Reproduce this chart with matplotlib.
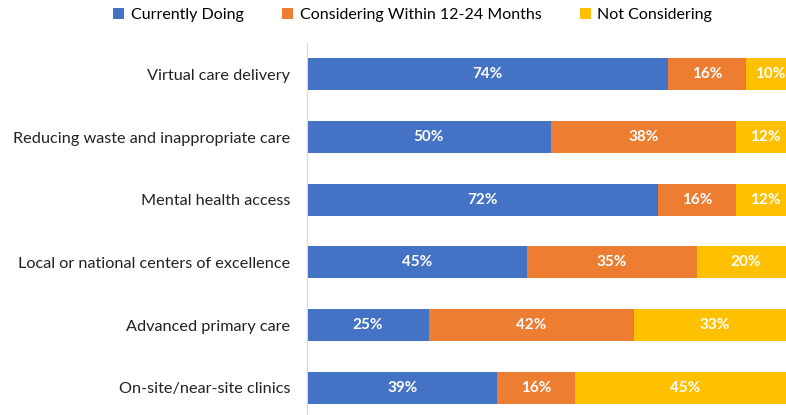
import matplotlib
matplotlib.use("Agg")
import matplotlib.pyplot as plt
import numpy as np

categories = ["Virtual care delivery", "Reducing waste and inappropriate care",
              "Mental health access", "Local or national centers of excellence",
              "Advanced primary care", "On-site/near-site clinics"]
series_names = ["Currently Doing", "Considering Within 12-24 Months", "Not Considering"]
currently = [74, 50, 72, 45, 25, 39]
considering = [16, 38, 16, 35, 42, 16]
not_considering = [10, 12, 12, 20, 33, 45]
colors = ["#4472C4", "#ED7D31", "#FFC000"]

plt.rcParams['font.family'] = ['Lato', 'DejaVu Sans']

fig = plt.figure(figsize=(7.86, 4.15), dpi=100)
ax = fig.add_axes([307/786, 1 - 419/415, 1 - 307/786, (419 - 43)/415])

y = np.arange(len(categories))
left = np.zeros(len(categories))
for vals, name, c in zip([currently, considering, not_considering], series_names, colors):
    vals = np.array(vals, dtype=float)
    ax.barh(y, vals, left=left, height=0.51, color=c, label=name)
    for yi, l, v in zip(y, left, vals):
        ax.text(l + v / 2, yi, f"{int(v)}%", ha="center", va="center",
                color="white", fontsize=11, fontweight="bold")
    left += vals

ax.set_xlim(0, 98.2)
ax.set_ylim(5.5, -0.5)
ax.set_yticks(y)
ax.set_yticklabels(categories, fontsize=11.7, color="#222222")
ax.tick_params(axis="y", length=0, pad=12)
ax.set_xticks([])
for s in ["top", "right", "bottom"]:
    ax.spines[s].set_visible(False)
ax.spines["left"].set_color("#D9D9D9")

handles, labels = ax.get_legend_handles_labels()
fig.legend(handles, labels, loc="upper center", bbox_to_anchor=(0.525, 1.015), ncol=3,
           frameon=False, fontsize=11.5, handlelength=0.7, handleheight=0.7,
           columnspacing=2.4, handletextpad=0.4)

fig.savefig("out.png", dpi=100)
